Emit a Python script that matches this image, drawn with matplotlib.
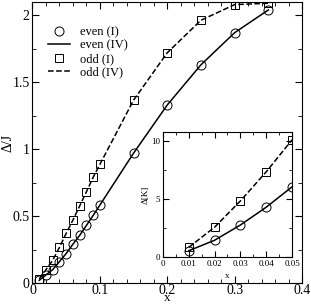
import matplotlib.pyplot as plt
from matplotlib.ticker import MultipleLocator

plt.rcParams['font.family'] = ['Liberation Serif', 'DejaVu Serif']

# main panel: gap vs x
x_main = [0.01, 0.02, 0.03, 0.04, 0.05, 0.06, 0.07, 0.08, 0.09, 0.10,
          0.15, 0.20, 0.25, 0.30, 0.35]
even_main = [0.02, 0.06, 0.10, 0.16, 0.22, 0.29, 0.356, 0.43, 0.505, 0.582,
             0.97, 1.33, 1.63, 1.87, 2.04]
odd_main = [0.03, 0.10, 0.17, 0.266, 0.371, 0.47, 0.575, 0.681, 0.789, 0.886,
            1.366, 1.72, 1.963, 2.08, 2.09]

# inset: gap in kelvin at small x
x_ins = [0.01, 0.02, 0.03, 0.04, 0.05]
even_ins = [0.57, 1.47, 2.78, 4.31, 6.06]
odd_ins = [0.86, 2.59, 4.85, 7.35, 10.1]

fig = plt.figure(figsize=(3.11, 3.06), dpi=100)
ax = fig.add_axes([0.1045, 0.0752, 0.8665, 0.9185])

mk = dict(mfc='none', mec='black', mew=0.7, color='black')
ax.plot(x_main, even_main, 'o', ms=6.5, label='even (I)', **mk)
ax.plot(x_main, even_main, '-', lw=1.1, color='black', label='even (IV)')
ax.plot(x_main, odd_main, 's', ms=5.5, label='odd (I)', **mk)
ax.plot(x_main, odd_main, '--', lw=1.1, color='black', label='odd (IV)')

ax.set_xlim(0, 0.4)
ax.set_ylim(0, 2.1)
ax.xaxis.set_minor_locator(MultipleLocator(0.02))
ax.yaxis.set_minor_locator(MultipleLocator(0.25))
ax.set_xticks([0, 0.1, 0.2, 0.3, 0.4], ['0', '0.1', '0.2', '0.3', '0.4'])
ax.set_yticks([0, 0.5, 1, 1.5, 2], ['0', '0.5', '1', '1.5', '2'])
ax.tick_params(which='both', direction='in', top=True, right=True, labelsize=10)
ax.tick_params(which='major', length=5, pad=2)
ax.tick_params(axis='x', which='major', pad=1)
ax.tick_params(which='minor', length=3)
ax.set_xlabel('x', fontsize=9.5)
ax.xaxis.label.set_va('baseline')
ax.set_ylabel('Δ/J', fontsize=10)
ax.xaxis.set_label_coords(0.5, -0.063)
ax.yaxis.set_label_coords(-0.065, 0.5)
ax.legend(loc='upper left', bbox_to_anchor=(0.025, 0.945), frameon=False,
          fontsize=9, handlelength=1.8, handletextpad=0.8, labelspacing=0.12,
          borderpad=0.2)

ins = fig.add_axes([0.524, 0.159, 0.415, 0.4106])
ins.plot(x_ins, even_ins, 'o', ms=6.5, **mk)
ins.plot(x_ins, even_ins, '-', lw=1.1, color='black')
ins.plot(x_ins, odd_ins, 's', ms=5.5, **mk)
ins.plot(x_ins, odd_ins, '--', lw=1.1, color='black')
ins.set_xlim(0, 0.05)
ins.set_ylim(0, 10.8)
ins.set_xticks([0, 0.01, 0.02, 0.03, 0.04, 0.05],
               ['0', '0.01', '0.02', '0.03', '0.04', '0.05'])
ins.set_yticks([0, 5, 10], ['0', '5', '10'])
ins.xaxis.set_minor_locator(MultipleLocator(0.005))
ins.yaxis.set_minor_locator(MultipleLocator(2.5))
ins.tick_params(which='both', direction='in', top=True, right=True, labelsize=6.5)
ins.tick_params(which='major', length=4, pad=2)
ins.tick_params(which='minor', length=2)
ins.set_xlabel('x', fontsize=6.5)
ins.set_ylabel('Δ[K]', fontsize=6.5)
ins.xaxis.set_label_coords(0.5, -0.115)
ins.yaxis.set_label_coords(-0.1, 0.5)

fig.savefig('out.png', dpi=100)
